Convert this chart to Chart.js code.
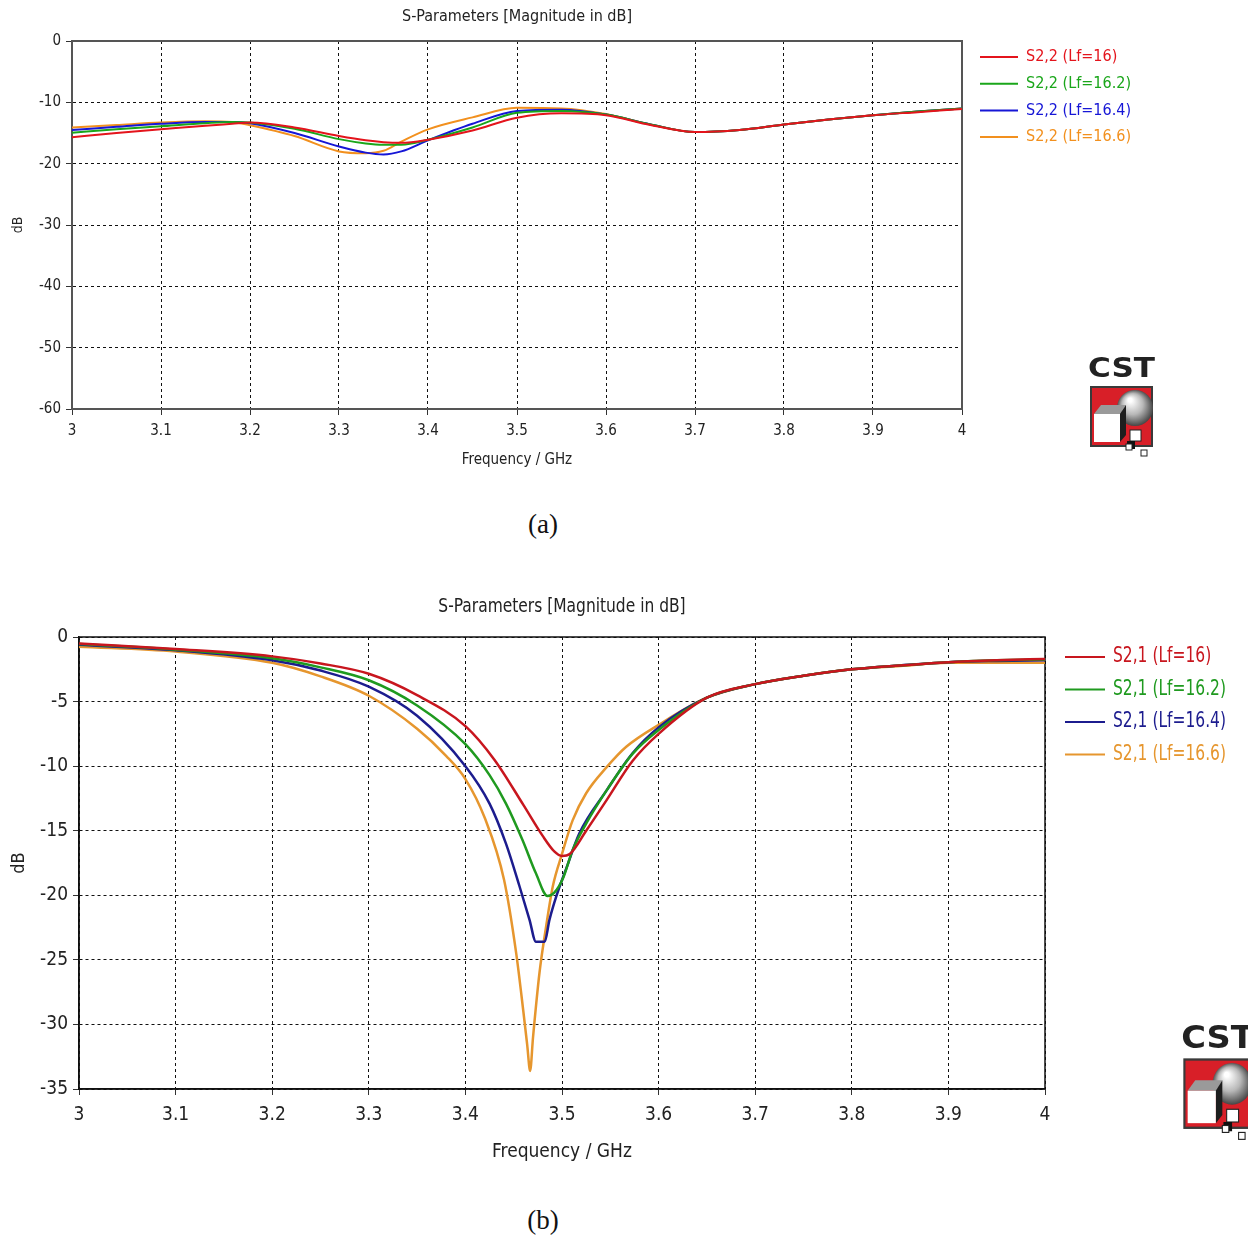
<!DOCTYPE html>
<html lang="en">
<head>
<meta charset="UTF-8">
<title>S-Parameters</title>
<script src="https://cdn.jsdelivr.net/npm/chart.js"></script>
<style>
  body { margin: 0; background: #fff; }
  #page { position: relative; width: 1248px; height: 1236px; overflow: hidden; background: #fff; }
  canvas { position: absolute; }
  .cap { position: absolute; font-family: "Liberation Serif", "Times New Roman", serif; font-size: 27px; color: #111; transform: translate(-50%, -50%); }
</style>
</head>
<body>
<div id="page">
  <canvas id="chartA" width="1248" height="480" style="left:0;top:0;width:1248px;height:480px"></canvas>
  <canvas id="chartB" width="1248" height="600" style="left:0;top:580px;width:1248px;height:600px"></canvas>
  <canvas id="logoA" width="72" height="108" style="left:1086px;top:352px;width:72px;height:108px"></canvas>
  <canvas id="logoB" width="78" height="125" style="left:1179px;top:1019px;width:78px;height:125px"></canvas>
  <div class="cap" style="left:543px;top:524px">(a)</div>
  <div class="cap" style="left:543px;top:1220px">(b)</div>
</div>
<script>
// ---- ticks ----
const xTicks = [3, 3.1, 3.2, 3.3, 3.4, 3.5, 3.6, 3.7, 3.8, 3.9, 4];
const yTicksA = [0, -10, -20, -30, -40, -50, -60];
const yTicksB = [0, -5, -10, -15, -20, -25, -30, -35];

// ---- panel (a), S2,2 ----
const freqA = [3.00, 3.05, 3.10, 3.15, 3.18, 3.20, 3.25, 3.30, 3.33, 3.35, 3.37, 3.40, 3.45, 3.50, 3.55, 3.60, 3.65, 3.70, 3.75, 3.80, 3.85, 3.90, 3.95, 4.00];
const s22_16   = [-15.7, -15.0, -14.4, -13.8, -13.5, -13.3, -14.1, -15.5, -16.2, -16.5, -16.6, -16.1, -14.6, -12.5, -11.8, -12.1, -13.7, -14.85, -14.5, -13.6, -12.8, -12.1, -11.6, -11.1];
const s22_16_2 = [-14.95, -14.4, -13.9, -13.4, -13.2, -13.3, -14.3, -16.0, -16.7, -16.9, -16.9, -16.1, -14.1, -11.7, -11.4, -12.0, -13.6, -14.85, -14.5, -13.6, -12.8, -12.1, -11.5, -11.0];
const s22_16_4 = [-14.5, -14.0, -13.5, -13.2, -13.2, -13.4, -15.0, -17.2, -18.2, -18.5, -18.0, -16.2, -13.5, -11.4, -11.2, -12.0, -13.6, -14.85, -14.5, -13.6, -12.8, -12.1, -11.5, -11.0];
const s22_16_6 = [-14.1, -13.7, -13.3, -13.1, -13.2, -13.75, -15.5, -18.0, -18.3, -17.9, -16.4, -14.4, -12.45, -10.9, -11.0, -11.9, -13.6, -14.85, -14.5, -13.6, -12.8, -12.1, -11.5, -11.0];

// ---- panel (b), S2,1 ----
const freqB16   = [3.0, 3.1, 3.2, 3.25, 3.3, 3.35, 3.4, 3.43, 3.46, 3.48, 3.492, 3.5, 3.508, 3.525, 3.546, 3.573, 3.6, 3.65, 3.7, 3.75, 3.8, 3.85, 3.9, 3.95, 4.0];
const s21_16    = [-0.5, -0.93, -1.5, -2.05, -2.85, -4.5, -6.9, -9.5, -13.0, -15.4, -16.6, -16.95, -16.8, -15.0, -12.65, -9.6, -7.5, -4.7, -3.65, -3.0, -2.5, -2.2, -1.95, -1.8, -1.7];
const freqB16_2 = [3.0, 3.1, 3.2, 3.25, 3.3, 3.35, 3.4, 3.425, 3.442, 3.459, 3.473, 3.485, 3.492, 3.5015, 3.511, 3.525, 3.546, 3.573, 3.6, 3.65, 3.7, 3.75, 3.8, 3.85, 3.9, 3.95, 4.0];
const s21_16_2  = [-0.55, -0.98, -1.65, -2.35, -3.35, -5.3, -8.3, -10.7, -12.9, -15.7, -18.3, -20.05, -19.8, -18.6, -16.5, -14.45, -11.9, -9.05, -7.2, -4.7, -3.65, -3.0, -2.5, -2.2, -1.95, -1.8, -1.75];
const freqB16_4 = [3.0, 3.1, 3.2, 3.25, 3.3, 3.35, 3.4, 3.425, 3.442, 3.456, 3.4664, 3.473, 3.482, 3.487, 3.494, 3.505, 3.518, 3.546, 3.573, 3.6, 3.65, 3.7, 3.75, 3.8, 3.85, 3.9, 3.95, 4.0];
const s21_16_4  = [-0.6, -1.02, -1.8, -2.6, -3.85, -6.1, -10.0, -12.9, -16.0, -19.3, -21.9, -23.6, -23.6, -21.9, -20.1, -17.8, -15.2, -11.9, -9.0, -7.0, -4.7, -3.65, -3.0, -2.5, -2.2, -1.95, -1.85, -1.8];
const freqB16_6 = [3.0, 3.1, 3.2, 3.25, 3.3, 3.35, 3.38, 3.4, 3.42, 3.44, 3.4526, 3.46, 3.464, 3.467, 3.47, 3.4767, 3.4836, 3.4905, 3.5, 3.511, 3.525, 3.546, 3.5665, 3.6, 3.65, 3.7, 3.75, 3.8, 3.85, 3.9, 3.95, 4.0];
const s21_16_6  = [-0.75, -1.13, -2.0, -3.05, -4.55, -7.1, -9.2, -11.0, -14.0, -18.8, -24.5, -29.0, -31.6, -33.6, -31.0, -26.0, -22.4, -19.3, -16.8, -14.2, -12.1, -10.1, -8.5, -6.8, -4.7, -3.65, -3.0, -2.5, -2.25, -2.0, -2.0, -2.0];

const FONT = '"DejaVu Sans Condensed", "Liberation Sans Narrow", Tahoma, "DejaVu Sans", sans-serif';

function pts(f, v) { return f.map((x, i) => ({ x: x, y: v[i] })); }

function scaledText(ctx, text, x, y, sx) {
  ctx.save();
  ctx.translate(x, y);
  ctx.scale(sx, 1);
  ctx.fillText(text, 0, 0);
  ctx.restore();
}

// title over the plot, box frame and the side legend
const extras = {
  id: 'extras',
  beforeDatasetsDraw(chart, args, o) {
    const a = chart.chartArea, ctx = chart.ctx;
    ctx.save();
    ctx.strokeStyle = o.frameColor;
    ctx.lineWidth = o.frameWidth;
    ctx.strokeRect(a.left, a.top, a.right - a.left, a.bottom - a.top);
    ctx.restore();
  },
  afterDraw(chart, args, o) {
    const a = chart.chartArea, ctx = chart.ctx;
    ctx.save();
    ctx.fillStyle = '#222';
    ctx.font = o.titleSize + 'px ' + FONT;
    ctx.textAlign = 'center';
    ctx.textBaseline = 'middle';
    scaledText(ctx, o.title, (a.left + a.right) / 2, o.titleY, o.titleSx);
    ctx.textAlign = 'left';
    ctx.font = o.legSize + 'px ' + FONT;
    chart.data.datasets.forEach((ds, i) => {
      const y = o.legY + i * o.legDy;
      ctx.strokeStyle = ds.borderColor;
      ctx.lineWidth = 2;
      ctx.beginPath();
      ctx.moveTo(o.legX, y);
      ctx.lineTo(o.legX + o.legLen, y);
      ctx.stroke();
      ctx.fillStyle = ds.borderColor;
      scaledText(ctx, ds.label, o.legX + o.legLen + 8, y, o.legSx);
    });
    ctx.restore();
  }
};

function makeChart(id, cfg) {
  const H = cfg.height, W = 1248;
  return new Chart(document.getElementById(id), {
    type: 'line',
    data: {
      datasets: cfg.series.map(s => ({
        label: s.label,
        data: pts(s.f, s.v),
        borderColor: s.color,
        borderWidth: cfg.lineWidth,
        pointRadius: 0,
        cubicInterpolationMode: 'monotone',
        fill: false
      }))
    },
    options: {
      responsive: false,
      animation: false,
      layout: { padding: { top: cfg.area.top, right: W - cfg.area.right, left: 0, bottom: 0 } },
      plugins: {
        legend: { display: false },
        tooltip: { enabled: false },
        title: { display: false },
        extras: cfg.extras
      },
      scales: {
        x: {
          type: 'linear', min: 3, max: 4,
          afterBuildTicks: s => { s.ticks = xTicks.map(v => ({ value: v })); },
          afterFit: s => { s.height = H - cfg.area.bottom; },
          grid: { color: '#111', lineWidth: 1, tickLength: 6, tickColor: '#333', tickBorderDash: [] },
          border: { color: cfg.axisColor, width: cfg.axisWidth, dash: [3, 3] },
          ticks: { font: { family: FONT, size: cfg.tickSize }, color: '#222', padding: cfg.xTickPad, maxRotation: 0, autoSkip: false, callback: v => String(v) },
          title: { display: true, text: 'Frequency / GHz', font: { family: FONT, size: cfg.axisTitleSize }, color: '#222', padding: { top: cfg.xTitlePad, bottom: cfg.xTitlePad } }
        },
        y: {
          type: 'linear', min: cfg.yTicks[cfg.yTicks.length - 1], max: 0,
          afterBuildTicks: s => { s.ticks = cfg.yTicks.map(v => ({ value: v })); },
          afterFit: s => { s.width = cfg.area.left; },
          grid: { color: '#111', lineWidth: 1, tickLength: 6, tickColor: '#333', tickBorderDash: [] },
          border: { color: cfg.axisColor, width: cfg.axisWidth, dash: [3, 3] },
          ticks: { font: { family: FONT, size: cfg.tickSize }, color: '#222', padding: 5, autoSkip: false, callback: v => String(v) },
          title: { display: true, text: 'dB', font: { family: FONT, size: cfg.axisTitleSize - 1 }, color: '#222', padding: { top: cfg.yTitlePad, bottom: 0 } }
        }
      }
    },
    plugins: [extras]
  });
}

makeChart('chartA', {
  height: 480,
  area: { left: 72, top: 41, right: 962, bottom: 409 },
  yTicks: yTicksA,
  lineWidth: 2,
  tickSize: 15, axisTitleSize: 15, xTickPad: 7, xTitlePad: 11, yTitlePad: 10,
  axisColor: '#555', axisWidth: 2,
  series: [
    { label: 'S2,2 (Lf=16)',   f: freqA, v: s22_16,   color: '#e4141c' },
    { label: 'S2,2 (Lf=16.2)', f: freqA, v: s22_16_2, color: '#1aa61a' },
    { label: 'S2,2 (Lf=16.4)', f: freqA, v: s22_16_4, color: '#1616d6' },
    { label: 'S2,2 (Lf=16.6)', f: freqA, v: s22_16_6, color: '#f2901e' }
  ],
  extras: { title: 'S-Parameters [Magnitude in dB]', titleY: 17, titleSize: 16, titleSx: 1,
            legX: 980, legY: 57, legDy: 26.7, legLen: 38, legSize: 16, legSx: 1,
            frameColor: '#555', frameWidth: 2 }
});

makeChart('chartB', {
  height: 600,
  area: { left: 79, top: 57, right: 1045, bottom: 509 },
  yTicks: yTicksB,
  lineWidth: 2.5,
  tickSize: 19, axisTitleSize: 19, xTickPad: 9, xTitlePad: 17, yTitlePad: 9,
  axisColor: '#111', axisWidth: 1.5,
  series: [
    { label: 'S2,1 (Lf=16)',   f: freqB16,   v: s21_16,   color: '#c8161e' },
    { label: 'S2,1 (Lf=16.2)', f: freqB16_2, v: s21_16_2, color: '#1f9a1f' },
    { label: 'S2,1 (Lf=16.4)', f: freqB16_4, v: s21_16_4, color: '#1c1c8e' },
    { label: 'S2,1 (Lf=16.6)', f: freqB16_6, v: s21_16_6, color: '#e6962e' }
  ],
  extras: { title: 'S-Parameters [Magnitude in dB]', titleY: 27, titleSize: 20, titleSx: 0.86,
            legX: 1065, legY: 77, legDy: 32.5, legLen: 40, legSize: 21, legSx: 0.82,
            frameColor: '#111', frameWidth: 1.5 }
});

// CST logo
function drawLogo(id) {
  const cv = document.getElementById(id);
  const ctx = cv.getContext('2d');
  ctx.scale(cv.width / 72, cv.height / 108);
  ctx.font = 'bold 27px "DejaVu Sans", sans-serif';
  const w = ctx.measureText('CST').width;
  ctx.save();
  ctx.translate(2, 25);
  ctx.scale(67 / w, 1);
  ctx.fillStyle = '#222';
  ctx.fillText('CST', 0, 0);
  ctx.restore();
  ctx.fillStyle = '#3a3a3a';
  ctx.fillRect(4, 34, 63, 61);
  ctx.fillStyle = '#d81f28';
  ctx.fillRect(6, 36, 59, 57);
  const g = ctx.createRadialGradient(44, 48, 2, 49, 56, 19);
  g.addColorStop(0, '#ffffff');
  g.addColorStop(0.5, '#b8b8b8');
  g.addColorStop(1, '#3c3c3c');
  ctx.fillStyle = g;
  ctx.beginPath();
  ctx.arc(49, 56, 18, 0, Math.PI * 2);
  ctx.fill();
  ctx.fillStyle = '#9a9a9a';
  ctx.beginPath();
  ctx.moveTo(8, 62); ctx.lineTo(15, 53); ctx.lineTo(40, 53); ctx.lineTo(34, 62); ctx.closePath();
  ctx.fill();
  ctx.fillStyle = '#1e1e1e';
  ctx.beginPath();
  ctx.moveTo(34, 62); ctx.lineTo(40, 53); ctx.lineTo(40, 83); ctx.lineTo(34, 90); ctx.closePath();
  ctx.fill();
  ctx.fillStyle = '#fff';
  ctx.fillRect(8, 62, 26, 28);
  ctx.strokeStyle = '#222';
  ctx.lineWidth = 1;
  ctx.fillRect(44, 78, 11, 11);
  ctx.strokeRect(44, 78, 11, 11);
  ctx.fillStyle = '#111';
  ctx.fillRect(41, 89, 8, 8);
  ctx.fillStyle = '#fff';
  ctx.fillRect(40, 92, 6, 6);
  ctx.strokeRect(40, 92, 6, 6);
  ctx.fillRect(55, 98, 6, 6);
  ctx.strokeRect(55, 98, 6, 6);
}
drawLogo('logoA');
drawLogo('logoB');
</script>
</body>
</html>
